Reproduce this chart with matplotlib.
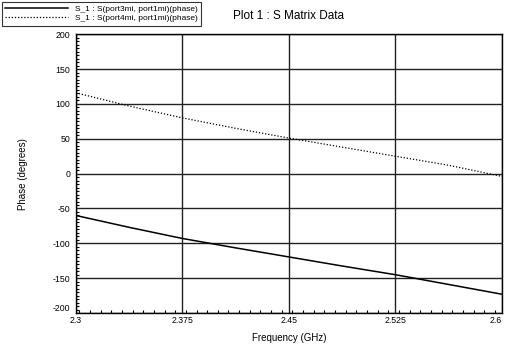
import matplotlib
matplotlib.use("Agg")
import matplotlib.pyplot as plt
from matplotlib.ticker import MultipleLocator

freq = [2.3, 2.3375, 2.375, 2.4125, 2.45, 2.4875, 2.525, 2.5625, 2.6]
phase_port3 = [-60, -77, -93, -106.5, -119.5, -132.5, -145, -159, -173]
phase_port4 = [116, 97, 80, 65, 51, 38, 25, 12, -4]
labels = ["S_1 : S(port3mi, port1mi)(phase)", "S_1 : S(port4mi, port1mi)(phase)"]
xticks = [2.3, 2.375, 2.45, 2.525, 2.6]
xticklabels = ["2.3", "2.375", "2.45", "2.525", "2.6"]
yticks = [-200, -150, -100, -50, 0, 50, 100, 150, 200]

plt.rcParams['font.family'] = ['Liberation Sans', 'DejaVu Sans']
plt.rcParams['axes.unicode_minus'] = False
fig = plt.figure(figsize=(5.05, 3.49), dpi=100)
ax = fig.add_axes([0.150, 0.103, 0.844, 0.799])

ax.set_xlim(2.3, 2.6)
ax.set_ylim(-200, 200)
ax.set_xticks(xticks)
ax.set_xticklabels(xticklabels)
ax.set_yticks(yticks)
ax.xaxis.set_minor_locator(MultipleLocator(0.0075))
ax.yaxis.set_minor_locator(MultipleLocator(5))
ax.grid(True, which='major', color='#222222', linewidth=1.0)
ax.tick_params(which='both', direction='in', labelsize=6.3, width=0.8, top=False, right=False)
ax.tick_params(which='minor', length=2)
ax.tick_params(axis='x', which='major', pad=2, length=0)
ax.tick_params(axis='y', which='major', pad=4, length=0)
xl = ax.get_xticklabels()
xl[-1].set_horizontalalignment('right')
yl = ax.get_yticklabels()
yl[0].set_verticalalignment('bottom')

l1, = ax.plot(freq, phase_port3, color='black', linewidth=1.1, label=labels[0])
l2, = ax.plot(freq, phase_port4, color='black', linewidth=0.9, linestyle=(0, (1, 1.5)), label=labels[1])

for s in ax.spines.values():
    s.set_linewidth(1.0)

ax.set_title("Plot 1 : S Matrix Data", fontsize=8.5, pad=11)
ax.set_xlabel("Frequency (GHz)", fontsize=7, labelpad=6)
ax.set_ylabel("Phase (degrees)", fontsize=7, labelpad=18)

leg = fig.legend(handles=[l1, l2], loc='upper left', bbox_to_anchor=(0.004, 0.995),
                 fontsize=6, frameon=True, fancybox=False, edgecolor='black',
                 handlelength=7.5, borderpad=0.4, labelspacing=0.2, handletextpad=0.8,
                 borderaxespad=0)
leg.get_frame().set_linewidth(0.8)

fig.savefig("out.png", dpi=100)
